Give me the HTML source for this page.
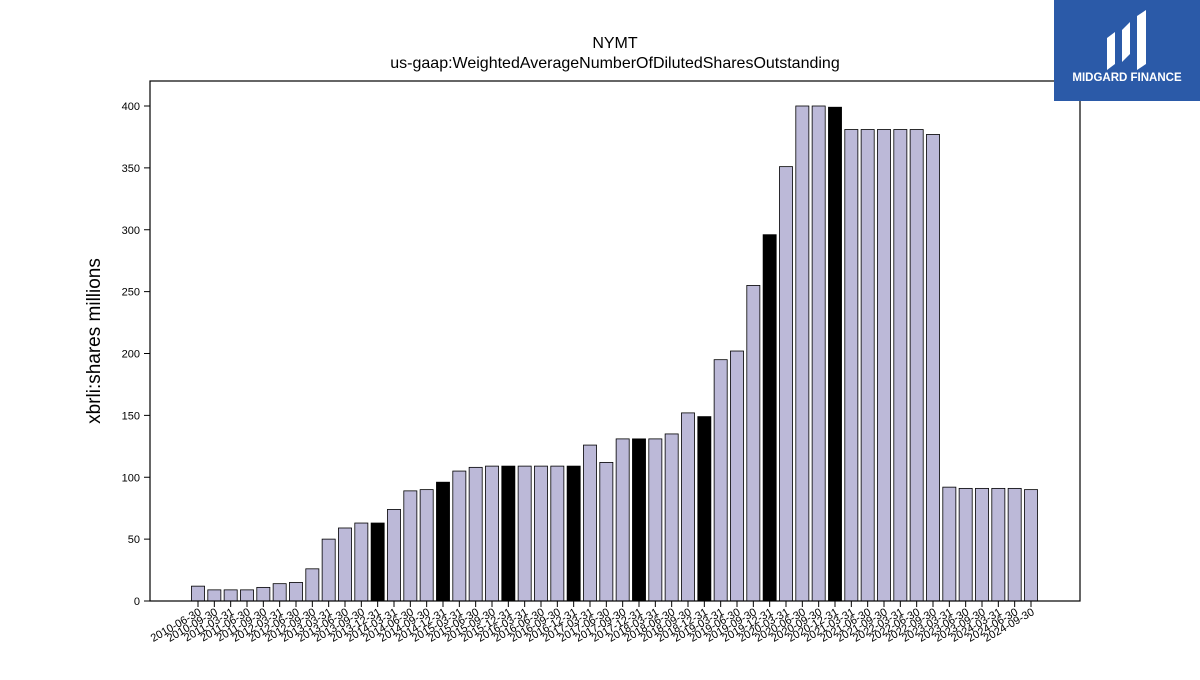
<!DOCTYPE html>
<html><head><meta charset="utf-8"><style>
body{margin:0;background:#fff;font-family:"Liberation Sans","DejaVu Sans",sans-serif}
</style></head><body>
<svg id="chart" width="1200" height="675" xmlns="http://www.w3.org/2000/svg">
<text x="615" y="48" text-anchor="middle" font-size="16">NYMT</text>
<text x="615" y="68" text-anchor="middle" font-size="16">us-gaap:WeightedAverageNumberOfDilutedSharesOutstanding</text>
<text transform="translate(100,341) rotate(-90)" text-anchor="middle" font-size="19">xbrli:shares millions</text>
<g id="bars"></g><g id="yticks"></g><g id="xticks"></g>
<rect x="150" y="81" width="930" height="520" fill="none" stroke="#000" stroke-width="1.2"/>
<g>
<rect x="1054" y="0" width="146" height="101" fill="#2b5aa8"/>
<path d="M1107 70 V38 L1115 32 V64 Z M1122 62 V30 L1130 22 V54 Z M1137 70 V16 L1146 10 V64 Z" fill="#fff"/>
<text x="1127" y="81" text-anchor="middle" font-size="11.5" font-weight="bold" fill="#fff">MIDGARD FINANCE</text>
</g>
</svg>
<script>
const categories=["2010-06-30","2010-09-30","2011-03-31","2011-06-30","2011-09-30","2012-03-31","2012-06-30","2012-09-30","2013-03-31","2013-06-30","2013-09-30","2013-12-31","2014-03-31","2014-06-30","2014-09-30","2014-12-31","2015-03-31","2015-06-30","2015-09-30","2015-12-31","2016-03-31","2016-06-30","2016-09-30","2016-12-31","2017-03-31","2017-06-30","2017-09-30","2017-12-31","2018-03-31","2018-06-30","2018-09-30","2018-12-31","2019-03-31","2019-06-30","2019-09-30","2019-12-31","2020-03-31","2020-06-30","2020-09-30","2020-12-31","2021-03-31","2021-06-30","2021-09-30","2022-03-31","2022-06-30","2022-09-30","2023-03-31","2023-06-30","2023-09-30","2024-03-31","2024-06-30","2024-09-30"];
const values=[12,9,9,9,11,14,15,26,50,59,63,63,74,89,90,96,105,108,109,109,109,109,109,109,126,112,131,131,131,135,152,149,195,202,255,296,351,400,400,399,381,381,381,381,381,377,92,91,91,91,91,90];
const yTicks=[0,50,100,150,200,250,300,350,400];
const NS="http://www.w3.org/2000/svg";
const x0=150,x1=1080,yb=601,yt=106;
const n=categories.length;
const slot=(1031-198)/(n-1);
const xs=i=>198+i*slot;
const ys=v=>yb-(v/400)*(yb-yt);
const bars=document.getElementById('bars'),yt_g=document.getElementById('yticks'),xt_g=document.getElementById('xticks');
categories.forEach((c,i)=>{
 const r=document.createElementNS(NS,'rect');
 const w=slot*0.8;
 r.setAttribute('x',xs(i)-w/2);r.setAttribute('y',ys(values[i]));
 r.setAttribute('width',w);r.setAttribute('height',yb-ys(values[i]));
 r.setAttribute('fill',c.endsWith('12-31')?'#000':'#bcb9d8');
 r.setAttribute('stroke','#000');r.setAttribute('stroke-width','0.8');
 
 
 bars.appendChild(r);
 const t=document.createElementNS(NS,'line');
 t.setAttribute('x1',xs(i));t.setAttribute('x2',xs(i));t.setAttribute('y1',601);t.setAttribute('y2',607);t.setAttribute('stroke','#000');
 
 
 xt_g.appendChild(t);
 const l=document.createElementNS(NS,'text');
 l.setAttribute('transform','translate('+(xs(i)+4)+',614) rotate(-30)');
 l.setAttribute('text-anchor','end');l.setAttribute('font-size','11');
 l.textContent=c;
 
 
 xt_g.appendChild(l);
});
yTicks.forEach(v=>{
 const t=document.createElementNS(NS,'line');
 t.setAttribute('x1',144);t.setAttribute('x2',150);t.setAttribute('y1',ys(v));t.setAttribute('y2',ys(v));t.setAttribute('stroke','#000');
 
 
 yt_g.appendChild(t);
 const l=document.createElementNS(NS,'text');
 l.setAttribute('x',140);l.setAttribute('y',ys(v)+4);l.setAttribute('text-anchor','end');l.setAttribute('font-size','11');
 l.textContent=v;
 
 
 yt_g.appendChild(l);
});
</script>
</body></html>
